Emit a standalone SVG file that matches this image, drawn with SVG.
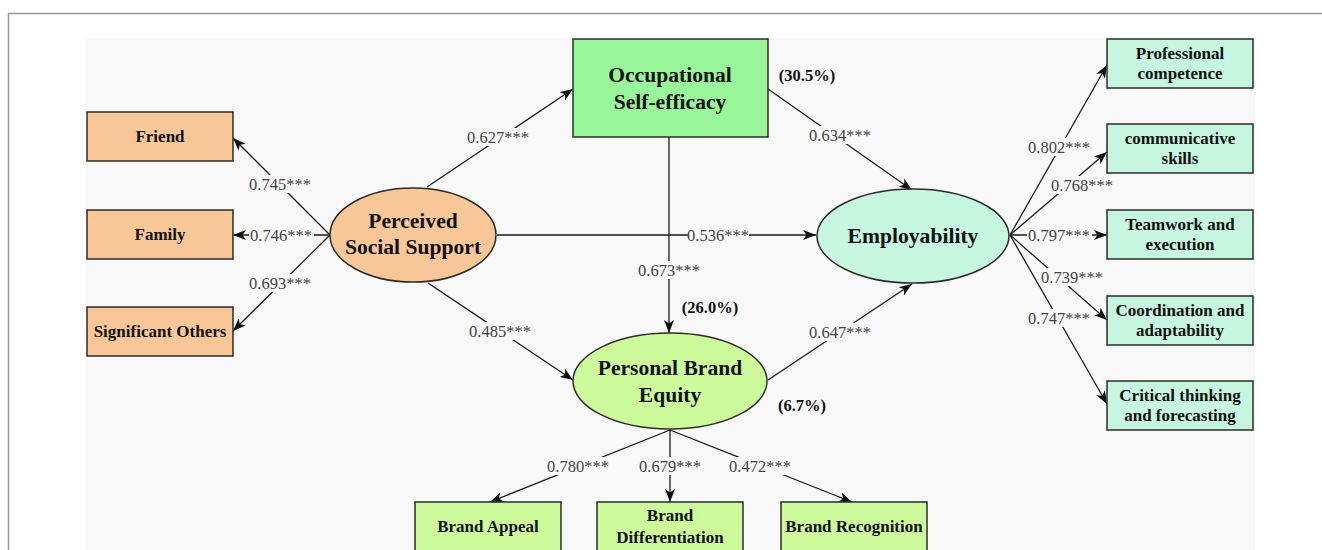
<svg xmlns="http://www.w3.org/2000/svg" width="1322" height="550" viewBox="0 0 1322 550">
<style>
.node{stroke:#2b2b2b;stroke-width:1.5}
.orange{fill:#F8C797}
.green{fill:#99F599}
.lime{fill:#CDFA9B}
.mint{fill:#C6F6E0}
.t{font-family:"Liberation Serif","Times New Roman",serif;font-weight:bold;fill:#111;text-anchor:middle}
.big{font-size:21.6px}
.sm{font-size:17px}
.pct{font-family:"Liberation Serif","Times New Roman",serif;font-weight:bold;font-size:16.5px;fill:#111;text-anchor:middle}
.lbl{font-family:"Liberation Serif","Times New Roman",serif;font-size:16.5px;fill:#444;text-anchor:middle}
.lb{fill:#F8F8F8}
.c{stroke:#1a1a1a;stroke-width:1.3;fill:none;marker-end:url(#ah)}
</style>
<defs>
<marker id="ah" markerUnits="userSpaceOnUse" markerWidth="14" markerHeight="10" viewBox="0 0 14 10" refX="13" refY="5" orient="auto">
<path d="M0,0 L13,5 L0,10 L3.5,5 Z" fill="#111"/>
</marker>
</defs>
<rect x="0" y="0" width="1322" height="550" fill="#FFFFFF"/>
<path d="M8.5,550 V13.5 H1322" fill="none" stroke="#9a9a9a" stroke-width="1.5"/>
<rect x="86" y="38" width="1169" height="512" fill="#F8F8F8"/>

<g id="connectors">
<path class="c" d="M330,235 L233,138"/>
<path class="c" d="M330,235 L233,235"/>
<path class="c" d="M330,235 L233,331"/>
<path class="c" d="M427,187 L573,89"/>
<path class="c" d="M768,89 L912,190"/>
<path class="c" d="M497,235 L816,235"/>
<path class="c" d="M669,137 L669,333"/>
<path class="c" d="M428,283 L573,380"/>
<path class="c" d="M768,380 L912,284"/>
<path class="c" d="M670,430 L490,502"/>
<path class="c" d="M670,430 L670,502"/>
<path class="c" d="M670,430 L852,502"/>
<path class="c" d="M1010,235 L1107,65"/>
<path class="c" d="M1010,235 L1107,152"/>
<path class="c" d="M1010,235 L1107,235"/>
<path class="c" d="M1010,235 L1107,320"/>
<path class="c" d="M1010,235 L1107,404"/>
<g id="labels">
<rect class="lb" x="248" y="175" width="65" height="18"/><text class="lbl" x="280" y="190">0.745***</text>
<rect class="lb" x="249" y="226" width="65" height="18"/><text class="lbl" x="281" y="241">0.746***</text>
<rect class="lb" x="248" y="274" width="65" height="18"/><text class="lbl" x="280" y="289">0.693***</text>
<rect class="lb" x="466" y="128" width="65" height="18"/><text class="lbl" x="498" y="143">0.627***</text>
<rect class="lb" x="808" y="126" width="65" height="18"/><text class="lbl" x="840" y="141">0.634***</text>
<rect class="lb" x="688" y="226" width="61" height="18"/><text class="lbl" x="718" y="241">0.536***</text>
<rect class="lb" x="637" y="261" width="65" height="18"/><text class="lbl" x="669" y="276">0.673***</text>
<rect class="lb" x="468" y="322" width="65" height="18"/><text class="lbl" x="500" y="337">0.485***</text>
<rect class="lb" x="808" y="323" width="65" height="18"/><text class="lbl" x="840" y="338">0.647***</text>
<rect class="lb" x="546" y="457" width="65" height="18"/><text class="lbl" x="578" y="472">0.780***</text>
<rect class="lb" x="638" y="457" width="65" height="18"/><text class="lbl" x="670" y="472">0.679***</text>
<rect class="lb" x="728" y="457" width="65" height="18"/><text class="lbl" x="760" y="472">0.472***</text>
<rect class="lb" x="1027" y="138" width="65" height="18"/><text class="lbl" x="1059" y="153">0.802***</text>
<rect class="lb" x="1050" y="176" width="65" height="18"/><text class="lbl" x="1082" y="191">0.768***</text>
<rect class="lb" x="1027" y="226" width="65" height="18"/><text class="lbl" x="1059" y="241">0.797***</text>
<rect class="lb" x="1040" y="268" width="65" height="18"/><text class="lbl" x="1072" y="283">0.739***</text>
<rect class="lb" x="1027" y="309" width="65" height="18"/><text class="lbl" x="1059" y="324">0.747***</text>
</g>
</g>

<g id="friend"><rect class="node orange" x="87" y="112" width="146" height="49"/><text class="t sm" x="160" y="142">Friend</text></g>
<g id="family"><rect class="node orange" x="87" y="210" width="146" height="49"/><text class="t sm" x="160" y="240">Family</text></g>
<g id="significant-others"><rect class="node orange" x="87" y="307" width="146" height="49"/><text class="t sm" x="160" y="337">Significant Others</text></g>

<g id="perceived-social-support"><ellipse class="node orange" cx="413" cy="235" rx="83" ry="47"/><text class="t big" x="413" y="228">Perceived</text><text class="t big" x="413" y="254">Social Support</text></g>

<g id="occupational-self-efficacy"><rect class="node green" x="573" y="39" width="195" height="98"/><text class="t big" x="670" y="82">Occupational</text><text class="t big" x="670" y="109">Self-efficacy</text></g>
<text class="pct" x="807" y="81">(30.5%)</text>

<g id="employability"><ellipse class="node mint" cx="913" cy="236" rx="96" ry="47"/><text class="t big" x="913" y="243">Employability</text></g>

<g id="personal-brand-equity"><ellipse class="node lime" cx="670" cy="381" rx="97" ry="48"/><text class="t big" x="670" y="375">Personal Brand</text><text class="t big" x="670" y="402">Equity</text></g>
<text class="pct" x="710" y="313">(26.0%)</text>
<text class="pct" x="802" y="411">(6.7%)</text>

<g id="brand-appeal"><rect class="node lime" x="415" y="502" width="146" height="49"/><text class="t sm" x="488" y="532">Brand Appeal</text></g>
<g id="brand-differentiation"><rect class="node lime" x="597" y="502" width="146" height="49"/><text class="t sm" x="670" y="521">Brand</text><text class="t sm" x="670" y="543">Differentiation</text></g>
<g id="brand-recognition"><rect class="node lime" x="781" y="502" width="146" height="49"/><text class="t sm" x="854" y="532">Brand Recognition</text></g>

<g id="professional-competence"><rect class="node mint" x="1107" y="39" width="146" height="49"/><text class="t sm" x="1180" y="59">Professional</text><text class="t sm" x="1180" y="79">competence</text></g>
<g id="communicative-skills"><rect class="node mint" x="1107" y="124" width="146" height="49"/><text class="t sm" x="1180" y="144">communicative</text><text class="t sm" x="1180" y="164">skills</text></g>
<g id="teamwork-execution"><rect class="node mint" x="1107" y="210" width="146" height="49"/><text class="t sm" x="1180" y="230">Teamwork and</text><text class="t sm" x="1180" y="250">execution</text></g>
<g id="coordination-adaptability"><rect class="node mint" x="1107" y="296" width="146" height="49"/><text class="t sm" x="1180" y="316">Coordination and</text><text class="t sm" x="1180" y="336">adaptability</text></g>
<g id="critical-thinking"><rect class="node mint" x="1107" y="381" width="146" height="49"/><text class="t sm" x="1180" y="401">Critical thinking</text><text class="t sm" x="1180" y="421">and forecasting</text></g>
</svg>
